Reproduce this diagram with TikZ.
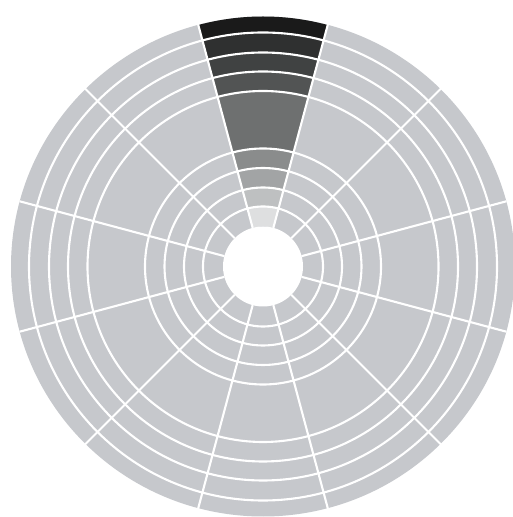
\documentclass[tikz,border=0pt]{standalone}
\definecolor{platter}{RGB}{198,200,204}
\definecolor{bandA}{RGB}{26,26,26}
\definecolor{bandB}{RGB}{47,48,48}
\definecolor{bandC}{RGB}{64,66,66}
\definecolor{bandD}{RGB}{82,84,84}
\definecolor{bandE}{RGB}{110,112,112}
\definecolor{bandF}{RGB}{138,140,140}
\definecolor{bandG}{RGB}{162,164,165}
\definecolor{bandH}{RGB}{190,192,193}
\definecolor{bandI}{RGB}{222,223,224}

\begin{document}
\begin{tikzpicture}[
    x=0.02cm, y=0.02cm,
    track/.style={draw=white, line width=1.2pt},
    spoke/.style={draw=white, line width=1.2pt}
]
    \useasboundingbox (0,0) rectangle (512,517);

    \begin{scope}[shift={(263,250.5)}]
        \fill[platter] (0,0) ellipse (252 and 250);

        \foreach \rin/\rout/\shade in {40/60/bandI, 60/79/bandH, 79/98.5/bandG,
            98.5/118/bandF, 118/175.5/bandE, 175.5/195/bandD, 195/214/bandC,
            214/234/bandB, 234/250/bandA}
            \fill[\shade] (75:\rin) arc (75:105:\rin) -- (105:\rout) arc (105:75:\rout) -- cycle;

        \foreach \r in {60,79,98.5,118,175.5,195,214,234}
            \draw[track] (0,0) circle (\r);

        \foreach \a in {15,45,...,345}
            \draw[spoke] (\a:40) -- (\a:252);

        \fill[white] (0,0) circle (40);
    \end{scope}
\end{tikzpicture}
\end{document}
